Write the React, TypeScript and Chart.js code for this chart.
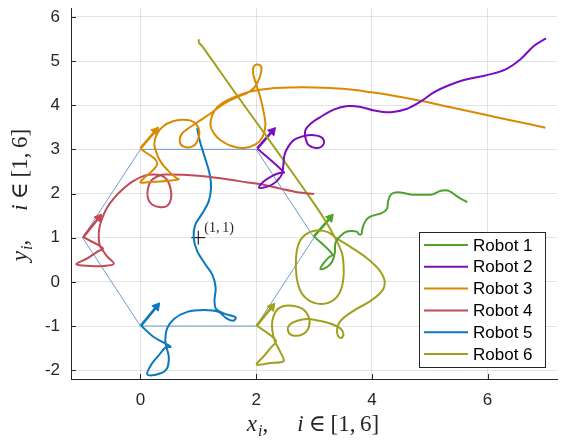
import React, { useEffect, useRef } from "react";
import { Chart, registerables } from "chart.js";

Chart.register(...registerables);

type P = [number, number];

const robotNames = ["Robot 1", "Robot 2", "Robot 3", "Robot 4", "Robot 5", "Robot 6"];
const robotColors = ["#4da22f", "#7b0cc0", "#d98a00", "#c04a55", "#0a78bd", "#a0a01e"];

const xTicks = [0, 2, 4, 6];
const yTicks = [-2, -1, 0, 1, 2, 3, 4, 5, 6];

const hexagon: P[] = [[0, 3], [2, 3], [3, 1], [2, -1], [0, -1], [-1, 1], [0, 3]];

const robot1: P[] = [
  [5.65, 1.8], [5.48, 1.93], [5.33, 2.06], [5.19, 2.06], [5.05, 1.98], [4.9, 1.97], [4.67, 1.98],
  [4.44, 2.03], [4.33, 1.98], [4.28, 1.82], [4.26, 1.65], [4.16, 1.55], [4.02, 1.5], [3.92, 1.43],
  [3.86, 1.3], [3.83, 1.16], [3.82, 1.08], [3.77, 1.08], [3.75, 1.13], [3.63, 1.15], [3.52, 1.11],
  [3.43, 1.0], [3.37, 0.88], [3.36, 0.66], [3.32, 0.47], [3.23, 0.34], [3.11, 0.29], [3.17, 0.43],
  [3.26, 0.56], [3.32, 0.62], [3.0, 1.03],
];

const robot2: P[] = [
  [7.01, 5.51], [6.8, 5.34], [6.57, 5.04], [6.34, 4.83], [6.11, 4.72], [5.88, 4.65], [5.59, 4.57],
  [5.31, 4.44], [5.07, 4.29], [4.84, 4.08], [4.61, 3.92], [4.33, 3.84], [4.04, 3.88], [3.81, 3.96],
  [3.58, 3.98], [3.34, 3.9], [3.11, 3.73], [2.94, 3.58], [2.85, 3.43], [2.85, 3.28], [2.91, 3.09],
  [3.06, 3.03], [3.17, 3.13], [3.14, 3.26], [3.0, 3.32], [2.83, 3.3], [2.65, 3.21], [2.55, 3.05],
  [2.49, 2.87], [2.47, 2.64], [2.45, 2.46], [2.4, 2.34], [2.3, 2.22], [2.18, 2.15], [2.05, 2.13],
  [2.13, 2.27], [2.28, 2.4], [2.42, 2.47], [2.48, 2.48], [2.02, 3.02],
];

const robot3: P[] = [
  [7.0, 3.49], [6.5, 3.63], [6.0, 3.77], [5.4, 3.94], [4.84, 4.1], [4.4, 4.21], [4.0, 4.29],
  [3.5, 4.37], [3.0, 4.4], [2.6, 4.4], [2.25, 4.38], [1.9, 4.31], [1.7, 4.22], [1.5, 4.11],
  [1.33, 3.96], [1.24, 3.77], [1.21, 3.54], [1.27, 3.36], [1.38, 3.21], [1.56, 3.08], [1.79, 3.03],
  [1.99, 3.11], [2.11, 3.28], [2.16, 3.54], [2.13, 3.84], [2.08, 4.14], [2.01, 4.44], [1.95, 4.7],
  [1.95, 4.85], [2.01, 4.92], [2.08, 4.89], [2.09, 4.78], [2.05, 4.59], [1.97, 4.4], [1.85, 4.28],
  [1.67, 4.18], [1.44, 4.03], [1.24, 3.84], [1.04, 3.66], [0.87, 3.51], [0.72, 3.36], [0.68, 3.17],
  [0.75, 3.06], [0.89, 3.06], [0.98, 3.17], [1.02, 3.39], [0.97, 3.56], [0.87, 3.65], [0.72, 3.67],
  [0.55, 3.63], [0.4, 3.53], [0.29, 3.36], [0.24, 3.13], [0.28, 2.91], [0.36, 2.7], [0.47, 2.53],
  [0.61, 2.36], [0.66, 2.32], [0.4, 2.28], [0.15, 2.26], [0.0, 2.26], [0.29, 2.68], [0.0, 3.02],
];

const robot4: P[] = [
  [3.0, 1.99], [2.71, 2.03], [2.42, 2.11], [2.13, 2.2], [1.85, 2.25], [1.56, 2.31], [1.18, 2.38],
  [0.81, 2.42], [0.46, 2.43], [0.35, 2.42], [0.2, 2.31], [0.13, 2.12], [0.13, 1.89], [0.2, 1.75],
  [0.35, 1.69], [0.47, 1.73], [0.53, 1.89], [0.52, 2.12], [0.46, 2.31], [0.37, 2.4], [0.23, 2.43],
  [0.06, 2.4], [-0.14, 2.27], [-0.32, 2.08], [-0.46, 1.89], [-0.58, 1.67], [-0.66, 1.44],
  [-0.71, 1.22], [-0.72, 1.0], [-0.7, 0.81], [-0.66, 0.73], [-0.58, 0.58], [-0.46, 0.41],
  [-0.63, 0.36], [-0.87, 0.36], [-1.11, 0.4], [-0.92, 0.53], [-0.75, 0.68], [-0.65, 0.76],
  [-0.99, 1.01],
];

const robot5: P[] = [
  [0.98, 3.48], [1.03, 3.17], [1.12, 2.79], [1.2, 2.42], [1.22, 2.12], [1.18, 1.82], [1.07, 1.55],
  [0.95, 1.3], [0.92, 1.0], [0.98, 0.7], [1.12, 0.4], [1.24, 0.17], [1.3, -0.13], [1.28, -0.43],
  [1.31, -0.62], [1.45, -0.72], [1.61, -0.78], [1.65, -0.82], [1.6, -0.88], [1.48, -0.82],
  [1.35, -0.68], [1.1, -0.64], [0.81, -0.68], [0.58, -0.84], [0.46, -1.06], [0.43, -1.33],
  [0.45, -1.48], [0.49, -1.7], [0.46, -1.96], [0.35, -2.07], [0.12, -2.1], [0.2, -1.85],
  [0.32, -1.66], [0.43, -1.49], [0.52, -1.47], [0.23, -1.25], [0.01, -0.99],
];

const robot6: P[] = [
  [1.01, 5.49], [1.01, 5.42], [1.07, 5.33], [1.6, 4.35], [2.16, 3.33], [2.47, 2.76], [2.88, 2.0],
  [3.17, 1.44], [3.35, 1.03], [3.48, 0.66], [3.51, 0.4], [3.51, 0.1], [3.46, -0.2], [3.34, -0.41],
  [3.14, -0.5], [2.94, -0.44], [2.78, -0.24], [2.7, 0.1], [2.69, 0.55], [2.74, 0.88], [2.85, 1.07],
  [3.03, 1.16], [3.23, 1.13], [3.4, 0.98], [3.63, 0.79], [3.92, 0.53], [4.12, 0.28], [4.22, 0.02],
  [4.18, -0.2], [3.98, -0.43], [3.69, -0.65], [3.46, -0.88], [3.4, -1.06], [3.41, -1.21],
  [3.47, -1.27], [3.51, -1.18], [3.46, -1.06], [3.29, -0.95], [3.08, -0.88], [2.88, -0.84],
  [2.71, -0.88], [2.58, -0.97], [2.55, -1.1], [2.62, -1.21], [2.8, -1.19], [2.91, -1.03],
  [2.91, -0.8], [2.8, -0.61], [2.62, -0.54], [2.45, -0.56], [2.34, -0.67], [2.28, -0.88],
  [2.28, -1.1], [2.32, -1.33], [2.41, -1.57], [2.48, -1.78], [2.42, -1.82], [2.25, -1.84],
  [2.01, -1.87], [2.13, -1.69], [2.24, -1.51], [2.34, -1.33], [2.01, -0.99],
];

const arrowTails: P[] = [[3.0, 1.03], [2.02, 3.02], [0.0, 3.02], [-0.99, 1.01], [0.01, -0.99], [2.01, -0.99]];
const arrowHeads: P[] = [[3.28, 1.45], [2.28, 3.41], [0.26, 3.42], [-0.72, 1.45], [0.28, -0.56], [2.27, -0.57]];

const markerPoint: P = [1, 1];
const markerLabel = "(1,\u20091)";

const robotPaths = [robot1, robot2, robot3, robot4, robot5, robot6];

const toXY = (a: P[]) => a.map(([x, y]) => ({ x, y }));

const AXIS_COLOR = "#262626";
const SANS = "'Liberation Sans', Arial, sans-serif";
const SERIF = "'Liberation Serif', 'DejaVu Serif', serif";

type Piece = { t?: string; it?: boolean; sub?: boolean; gap?: number };

const TITLE_SIZE = 23;

function drawMath(ctx: CanvasRenderingContext2D, pieces: Piece[], size: number) {
  const fontFor = (p: Piece) => `${p.it ? "italic " : ""}${p.sub ? Math.round(size * 0.68) : size}px ${SERIF}`;
  const widthOf = (p: Piece) => {
    if (p.gap !== undefined) return p.gap;
    ctx.font = fontFor(p);
    return ctx.measureText(p.t || "").width;
  };
  let total = 0;
  for (const p of pieces) total += widthOf(p);
  let x = -total / 2;
  for (const p of pieces) {
    const w = widthOf(p);
    if (p.t) {
      ctx.font = fontFor(p);
      ctx.fillText(p.t, x, p.sub ? size * 0.2 : 0);
    }
    x += w;
  }
}

const titleX: Piece[] = [
  { t: "x", it: true }, { gap: 1 }, { t: "i", it: true, sub: true }, { t: "," }, { gap: 29 },
  { t: "i", it: true }, { gap: 5 }, { t: "\u2208" }, { gap: 5 }, { t: "[1,\u20096]" },
];
const titleY: Piece[] = [
  { t: "y", it: true }, { gap: 1 }, { t: "i", it: true, sub: true }, { t: "," }, { gap: 29 },
  { t: "i", it: true }, { gap: 5 }, { t: "\u2208" }, { gap: 5 }, { t: "[1,\u20096]" },
];

const overlayPlugin = {
  id: "overlay",
  afterDraw(chart: any) {
    const ctx: CanvasRenderingContext2D = chart.ctx;
    const xs = chart.scales.x;
    const ys = chart.scales.y;
    const area = chart.chartArea;
    ctx.save();
    // inward ticks
    ctx.strokeStyle = AXIS_COLOR;
    ctx.lineWidth = 1;
    ctx.beginPath();
    for (const v of xTicks) {
      const px = Math.round(xs.getPixelForValue(v)) + 0.5;
      ctx.moveTo(px, area.bottom);
      ctx.lineTo(px, area.bottom - 5);
    }
    for (const v of yTicks) {
      const py = Math.round(ys.getPixelForValue(v)) + 0.5;
      ctx.moveTo(area.left, py);
      ctx.lineTo(area.left + 5, py);
    }
    ctx.stroke();

    // marker label
    ctx.fillStyle = "#262626";
    ctx.font = `14px ${SERIF}`;
    ctx.textBaseline = "middle";
    ctx.textAlign = "left";
    ctx.fillText(markerLabel, xs.getPixelForValue(markerPoint[0]) + 6, ys.getPixelForValue(markerPoint[1]) - 9);

    // axis titles
    ctx.fillStyle = AXIS_COLOR;
    ctx.textAlign = "left";
    ctx.textBaseline = "alphabetic";
    ctx.save();
    ctx.translate(313, 431);
    drawMath(ctx, titleX, TITLE_SIZE);
    ctx.restore();
    ctx.save();
    ctx.translate(27, 195);
    ctx.rotate(-Math.PI / 2);
    drawMath(ctx, titleY, TITLE_SIZE);
    ctx.restore();

    // legend
    const bx = 419.5, by = 232.5, bw = 126, bh = 135;
    ctx.fillStyle = "#ffffff";
    ctx.fillRect(bx, by, bw, bh);
    ctx.strokeStyle = AXIS_COLOR;
    ctx.lineWidth = 1;
    ctx.strokeRect(bx, by, bw, bh);
    ctx.font = `17px ${SANS}`;
    ctx.textBaseline = "middle";
    robotNames.forEach((name, i) => {
      const cy = 245 + i * 21.8;
      ctx.strokeStyle = robotColors[i];
      ctx.lineWidth = 2;
      ctx.beginPath();
      ctx.moveTo(424, cy);
      ctx.lineTo(468, cy);
      ctx.stroke();
      ctx.fillStyle = "#000000";
      ctx.fillText(name, 473, cy + 1);
    });
    ctx.restore();
  },
};

export default function App() {
  const ref = useRef<HTMLCanvasElement | null>(null);
  useEffect(() => {
    if (!ref.current) return;
    const rotation = (c: any) => {
      const ch = c.chart;
      const xs = ch.scales?.x;
      const ys = ch.scales?.y;
      const d = c.dataset.data;
      if (!xs || !ys || !d || d.length < 2) return 38;
      const dx = xs.getPixelForValue(d[1].x) - xs.getPixelForValue(d[0].x);
      const dy = ys.getPixelForValue(d[1].y) - ys.getPixelForValue(d[0].y);
      return (Math.atan2(dx, -dy) * 180) / Math.PI;
    };
    const datasets: any[] = [];
    robotPaths.forEach((path, i) => {
      datasets.push({
        label: robotNames[i],
        data: toXY(path),
        showLine: true,
        borderColor: robotColors[i],
        backgroundColor: robotColors[i],
        borderWidth: 2,
        pointRadius: 0,
        tension: 0.35,
      });
    });
    arrowTails.forEach((t, i) => {
      datasets.push({
        label: `arrow${i + 1}`,
        data: toXY([t, arrowHeads[i]]),
        showLine: true,
        borderColor: robotColors[i],
        backgroundColor: robotColors[i],
        borderWidth: 2.6,
        pointRadius: [0, 4.8],
        pointStyle: "triangle",
        pointBackgroundColor: robotColors[i],
        pointBorderColor: robotColors[i],
        pointBorderWidth: 1,
        pointRotation: rotation,
        tension: 0,
      });
    });
    datasets.push({
      label: "formation",
      data: toXY(hexagon),
      showLine: true,
      borderColor: "#4a84c0",
      borderWidth: 0.8,
      pointRadius: 0,
      tension: 0,
    });
    datasets.push({
      label: "center",
      data: toXY([markerPoint]),
      showLine: false,
      pointStyle: "cross",
      pointRadius: 7,
      borderColor: "#000000",
      pointBorderColor: "#000000",
      pointBorderWidth: 1,
    });

    const gridColor = "rgba(0,0,0,0.11)";
    const chart = new Chart(ref.current, {
      type: "scatter",
      data: { datasets },
      options: {
        animation: false,
        responsive: false,
        layout: { padding: { top: 5, right: 12, left: 0, bottom: 0 } },
        plugins: { legend: { display: false }, tooltip: { enabled: false } },
        scales: {
          x: {
            type: "linear",
            min: -1.2,
            max: 7.2,
            afterBuildTicks: (s: any) => {
              s.ticks = xTicks.map((v) => ({ value: v }));
            },
            afterFit: (s: any) => {
              s.height = 64;
              s.paddingLeft = 0;
              s.paddingRight = 0;
            },
            grid: { color: gridColor, lineWidth: 1, drawTicks: false },
            border: { display: true, color: AXIS_COLOR, width: 1 },
            ticks: {
              padding: 11,
              color: AXIS_COLOR,
              font: { family: SANS, size: 17 },
              callback: (v: any) => String(v),
            },
          },
          y: {
            type: "linear",
            min: -2.2,
            max: 6.2,
            afterBuildTicks: (s: any) => {
              s.ticks = yTicks.map((v) => ({ value: v }));
            },
            afterFit: (s: any) => {
              s.width = 71;
              s.paddingTop = 0;
              s.paddingBottom = 0;
            },
            grid: { color: gridColor, lineWidth: 1, drawTicks: false },
            border: { display: true, color: AXIS_COLOR, width: 1 },
            ticks: {
              padding: 11,
              color: AXIS_COLOR,
              font: { family: SANS, size: 17 },
              callback: (v: any) => String(v),
            },
          },
        },
      } as any,
      plugins: [overlayPlugin],
    });
    return () => chart.destroy();
  }, []);

  return (
    <div style={{ position: "absolute", left: 0, top: 0, width: 569, height: 443, background: "#ffffff" }}>
      <canvas ref={ref} width={569} height={443} style={{ width: 569, height: 443, display: "block" }} />
    </div>
  );
}
